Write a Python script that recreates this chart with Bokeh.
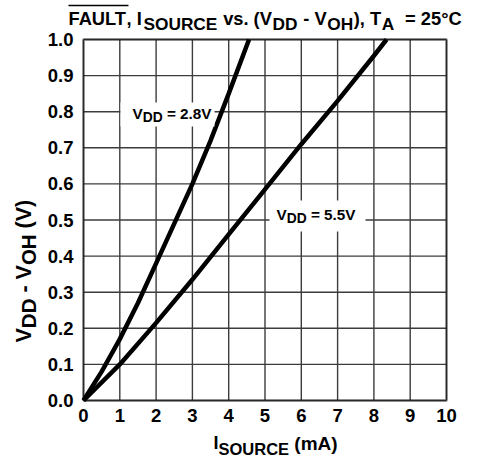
from bokeh.plotting import figure
from bokeh.models import (Range1d, FixedTicker, PrintfTickFormatter, Label, BoxAnnotation,
                          LinearAxis, Arrow)
from bokeh.embed import file_html
from bokeh.resources import INLINE
import math

# ---------------- data ----------------
i_source_28 = [0, 0.5, 1, 1.5, 2, 2.5, 3, 3.5, 4, 4.56]
v_drop_28 = [0, 0.08, 0.17, 0.27, 0.38, 0.49, 0.60, 0.72, 0.85, 1.0]

i_source_55 = [0, 1, 2, 3, 4, 5, 6, 7, 8, 8.35]
v_drop_55 = [0, 0.10, 0.215, 0.335, 0.46, 0.585, 0.71, 0.83, 0.955, 1.0]

x_ticks = [0, 1, 2, 3, 4, 5, 6, 7, 8, 9, 10]
y_ticks = [0.0, 0.1, 0.2, 0.3, 0.4, 0.5, 0.6, 0.7, 0.8, 0.9, 1.0]
x_lim = (0, 10)
y_lim = (0.0, 1.0)

FONT = "Liberation Sans"

# ---------------- layout (page pixels) ----------------
W, H = 477, 457
FL, FR, FT, FB = 83, 446, 39, 400   # edges of the plot box on the page
XS = (FR - FL) / (x_lim[1] - x_lim[0])   # px per mA
YS = (FB - FT) / (y_lim[1] - y_lim[0])   # px per V

x_range = Range1d(x_lim[0] - FL / XS, x_lim[0] + (W - FL) / XS)
y_range = Range1d(y_lim[0] - (H - FB) / YS, y_lim[0] + FB / YS)

p = figure(width=W, height=H, output_backend="svg", toolbar_location=None,
           x_range=x_range, y_range=y_range, x_axis_type=None, y_axis_type=None,
           min_border=0, min_border_left=0, min_border_right=0,
           min_border_top=0, min_border_bottom=0)
p.background_fill_color = "white"
p.border_fill_color = "white"
p.outline_line_color = None
p.grid.visible = False


def dx(px):
    return x_lim[0] + (px - FL) / XS


def dy(py):
    return y_lim[0] + (FB - py) / YS


# axes drawn at the plot box edges
xaxis = LinearAxis(fixed_location=y_lim[0], ticker=FixedTicker(ticks=x_ticks))
yaxis = LinearAxis(fixed_location=x_lim[0], ticker=FixedTicker(ticks=y_ticks),
                   formatter=PrintfTickFormatter(format="%.1f"))
for ax in (xaxis, yaxis):
    ax.axis_line_color = None
    ax.major_tick_out = 0
    ax.major_tick_in = 0
    ax.minor_tick_line_color = None
    ax.major_tick_line_color = None
    ax.major_label_text_font = FONT
    ax.major_label_text_font_style = "bold"
    ax.major_label_text_font_size = "18.5px"
    ax.major_label_text_color = "black"
xaxis.major_label_standoff = 8
yaxis.major_label_standoff = 10
p.add_layout(xaxis, "below")
p.add_layout(yaxis, "left")

# grid lines, limited to the plot box
p.segment(x0=x_ticks, y0=[y_lim[0]] * len(x_ticks), x1=x_ticks, y1=[y_lim[1]] * len(x_ticks),
          line_color="#3c3c3c", line_width=1.4)
p.segment(x0=[x_lim[0]] * len(y_ticks), y0=y_ticks, x1=[x_lim[1]] * len(y_ticks), y1=y_ticks,
          line_color="#3c3c3c", line_width=1.4)

# curves
p.line(i_source_28, v_drop_28, line_color="black", line_width=4.5)
p.line(i_source_55, v_drop_55, line_color="black", line_width=4.5)

# plot box border
p.add_layout(BoxAnnotation(left=x_lim[0], right=x_lim[1], bottom=y_lim[0], top=y_lim[1],
                           fill_alpha=0, line_color="black", line_width=3))

# ---------------- text helpers ----------------
AW = {' ': 278, '!': 333, '(': 333, ')': 333, ',': 278, '-': 333, '.': 278, '=': 584, '°': 400,
      'A': 722, 'C': 722, 'D': 722, 'E': 667, 'F': 611, 'H': 722, 'I': 278, 'L': 611, 'O': 778,
      'R': 722, 'S': 667, 'T': 611, 'U': 722, 'V': 667, 'a': 556, 'm': 889, 's': 556, 'v': 556}
FIX = 4.5   # empirical baseline correction (px)


def width(txt, size):
    return sum(AW.get(c, 556) for c in txt) / 1000.0 * size


def add_text(px, py, txt, size, angle=0.0):
    p.add_layout(Label(x=dx(px), y=dy(py), text=txt, angle=angle,
                       text_font=FONT, text_font_style="bold",
                       text_font_size=f"{size}px", text_color="black",
                       text_align="left", text_baseline="alphabetic"))


def run(px, py, pieces, gap=0.0):
    x = px
    for piece in pieces:
        txt, size, shift = piece[:3]
        adj = piece[3] if len(piece) > 3 else 0.0
        x += adj
        lead = len(txt) - len(txt.lstrip(' '))
        core = txt.strip(' ')
        if core:
            add_text(x + width(txt[:lead], size), py + shift - FIX, core, size)
        x += width(txt, size) + gap
    return x


def run_vertical(bx, py, pieces):
    y = py
    for txt, size, shift in pieces:
        lead = len(txt) - len(txt.lstrip(' '))
        core = txt.strip(' ')
        if core:
            add_text(bx + shift - FIX, y - width(txt[:lead], size), core, size, angle=math.pi / 2)
        y -= width(txt, size)
    return y


M, S = 18.3, 17.3
# title
t_start = 68
t_end_fault = t_start + width("FAULT", M)
run(t_start, 22.5, [("FAULT", M, 0), (", I", M, 0, -2.5), ("SOURCE", S, 5, 1.0), (" vs. (V", M, 0),
                   ("DD", S, 5), (" - V", M, 0), ("OH", S, 5), ("), T", M, 0), ("A", S, 5),
                   ("  = 25°C", M, 0)], gap=0.6)
p.add_layout(Arrow(x_start=dx(t_start), y_start=dy(5), x_end=dx(t_end_fault), y_end=dy(5),
                   start=None, end=None, line_color="black", line_width=1.5))

# x axis title
run(213, 447, [("I", 18, 0), ("SOURCE", 16.5, 6), (" (mA)", 19, 0)])
# y axis title
run_vertical(28, 342, [("V", 21.5, 0), ("DD", 20.5, 4), (" - V", 21.5, 0), ("OH", 20.5, 4),
                       (" (V)", 21.5, 0)])

# curve labels with white boxes
p.add_layout(BoxAnnotation(left=dx(120), right=dx(214), top=dy(102), bottom=dy(126),
                           fill_color="white", fill_alpha=1.0, line_color=None))
run(132, 117, [("V", 15.3, 0), ("DD", 13.8, 4.5), (" = 2.8V", 15.3, 0)])
p.add_layout(BoxAnnotation(left=dx(269), right=dx(365), top=dy(200), bottom=dy(231),
                           fill_color="white", fill_alpha=1.0, line_color=None))
run(276, 218, [("V", 15.3, 0), ("DD", 13.8, 4.5), (" = 5.5V", 15.3, 0)])

open("out.html", "w").write(file_html(p, INLINE))
